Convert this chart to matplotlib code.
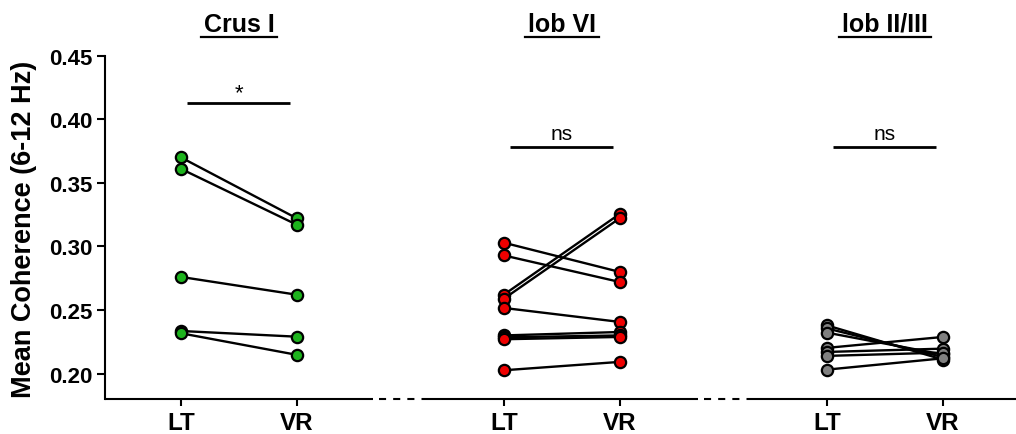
import matplotlib
matplotlib.use("Agg")
import matplotlib.pyplot as plt
from matplotlib.lines import Line2D

plt.rcParams['font.family'] = ['Liberation Sans', 'DejaVu Sans']

# ---- data -------------------------------------------------------------
regions = ["Crus I", "lob VI", "lob II/III"]
conditions = ["LT", "VR"]
region_colors = ["#1db31d", "#ee0000", "#808080"]
significance = ["*", "ns", "ns"]

crus1_lt = [0.370, 0.361, 0.276, 0.2335, 0.2317]
crus1_vr = [0.322, 0.317, 0.262, 0.229, 0.2147]

lobvi_lt = [0.3029, 0.2929, 0.2621, 0.2589, 0.2516, 0.2300, 0.2285, 0.2270, 0.2026]
lobvi_vr = [0.2799, 0.2720, 0.3257, 0.3223, 0.2406, 0.2327, 0.2300, 0.2288, 0.2092]

lob23_lt = [0.2379, 0.2355, 0.2322, 0.2202, 0.2170, 0.2139, 0.2031]
lob23_vr = [0.2110, 0.2130, 0.2150, 0.2288, 0.2196, 0.2165, 0.2120]

paired = [(crus1_lt, crus1_vr), (lobvi_lt, lobvi_vr), (lob23_lt, lob23_vr)]

y_ticks = [0.20, 0.25, 0.30, 0.35, 0.40, 0.45]
y_label = "Mean Coherence (6-12 Hz)"

# ---- layout -----------------------------------------------------------
group_step = 2.784           # distance between the LT positions of two regions
x_lo, x_hi = -0.655, 7.198
y_lo, y_hi = 0.18, 0.45
sig_levels = [0.4129, 0.378, 0.378]

fig = plt.figure(figsize=(10.16, 4.35), dpi=100)
ax = fig.add_axes([105 / 1016, 35 / 435, 1 - 105 / 1016, (400 - 56.7) / 435])
ax.set_xlim(x_lo, x_hi)
ax.set_ylim(y_lo, y_hi)

lw = 1.5
for g, ((lt, vr), col) in enumerate(zip(paired, region_colors)):
    x0 = g * group_step
    for a, b in zip(lt, vr):
        ax.plot([x0, x0 + 1], [a, b], color="black", lw=1.7, zorder=2,
                solid_capstyle="round")
    ax.scatter([x0] * len(lt) + [x0 + 1] * len(vr), list(lt) + list(vr),
               s=66, facecolor=col, edgecolor="black", linewidth=1.6, zorder=3)

    # significance bar
    ax.plot([x0 + 0.05, x0 + 0.94], [sig_levels[g]] * 2, color="black",
            lw=2.0, solid_capstyle="butt")
    ax.annotate(significance[g], xy=(x0 + 0.5, sig_levels[g]),
                xytext=(0, 3 if significance[g] == "ns" else 0),
                textcoords="offset points", ha="center", va="bottom",
                fontsize=15 if significance[g] == "ns" else 16)

# ---- axes styling -----------------------------------------------------
for s in ["top", "right", "bottom"]:
    ax.spines[s].set_visible(False)
ax.spines["left"].set_linewidth(lw)
ax.spines["left"].set_bounds(y_lo, y_hi)

ax.set_yticks(y_ticks)
ax.set_yticklabels([f"{v:.2f}" for v in y_ticks], fontsize=16, fontweight="bold")
ax.tick_params(axis="y", direction="out", length=6, width=lw, pad=3)

xt = []
for g in range(len(regions)):
    xt += [g * group_step, g * group_step + 1]
ax.set_xticks(xt)
ax.set_xticklabels(conditions * len(regions), fontsize=17.5, fontweight="bold")
ax.tick_params(axis="x", direction="out", length=5, width=lw, pad=4)

ax.set_ylabel(y_label, fontsize=19.5, fontweight="bold")
ax.yaxis.set_label_coords(-0.075, 0.497)

# broken x axis: solid pieces under each region, dashed joins between them
xtr = ax.get_xaxis_transform()
pieces = [(x_lo, 1.655), (2.12, 4.457), (4.905, x_hi)]
for a, b in pieces:
    ax.plot([a, b], [0, 0], transform=xtr, color="black", lw=lw,
            clip_on=False, solid_capstyle="butt", zorder=4)
for (_, a), (b, _) in zip(pieces[:-1], pieces[1:]):
    ax.plot([a + 0.05, b], [0, 0], transform=xtr, color="black", lw=lw,
            clip_on=False, linestyle=(0, (3.4, 3.4)), zorder=4)

# underlined region titles
titles = []
for g, name in enumerate(regions):
    t = ax.text(g * group_step + 0.5, 1.0 + 32 / 343.3, name,
                transform=xtr, ha="center", va="center",
                fontsize=18, fontweight="bold")
    titles.append(t)

fig.canvas.draw()
renderer = fig.canvas.get_renderer()
W, H = fig.bbox.width, fig.bbox.height
for t in titles:
    bb = t.get_window_extent(renderer)
    y_line = 435 - 38.3
    fig.add_artist(Line2D([(bb.x0 - 3) / W, (bb.x1 + 3) / W],
                          [y_line / H, y_line / H],
                          transform=fig.transFigure, color="black", lw=1.6))

fig.savefig("out.png", dpi=100)
